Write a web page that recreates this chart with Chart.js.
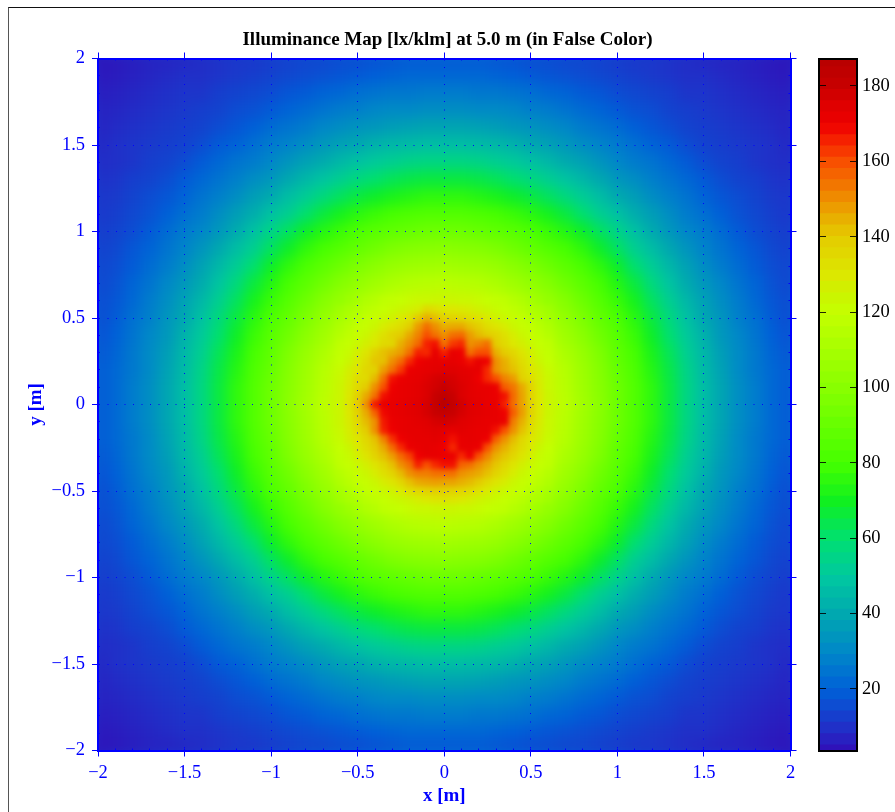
<!DOCTYPE html>
<html>
<head>
<meta charset="utf-8">
<script src="https://cdn.jsdelivr.net/npm/chart.js@4"></script>
<style>
html,body{margin:0;padding:0;background:#fff;width:895px;height:812px;overflow:hidden}
canvas{position:absolute;top:0}
#frame{position:absolute;left:8px;top:7px;right:0;bottom:0;border-left:1px solid #555;border-top:1px solid #111}
</style>
</head>
<body>
<div id="frame"></div>
<canvas id="map" width="895" height="812" style="left:0;width:895px;height:812px"></canvas>
<canvas id="bar" width="95" height="812" style="left:800px;width:95px;height:812px"></canvas>
<script>
const chartTitle = "Illuminance Map [lx/klm] at 5.0 m (in False Color)";
const xTitle = "x [m]";
const yTitle = "y [m]";
const coarseX = [-2,-1.9,-1.8,-1.7,-1.6,-1.5,-1.4,-1.3,-1.2,-1.1,-1,-0.9,-0.8,-0.7,-0.6,-0.5,-0.4,-0.3,-0.2,-0.1,0,0.1,0.2,0.3,0.4,0.5,0.6,0.7,0.8,0.9,1,1.1,1.2,1.3,1.4,1.5,1.6,1.7,1.8,1.9,2];
const coarseY = [2,1.9,1.8,1.7,1.6,1.5,1.4,1.3,1.2,1.1,1,0.9,0.8,0.7,0.6,0.5,0.4,0.3,0.2,0.1,0,-0.1,-0.2,-0.3,-0.4,-0.5,-0.6,-0.7,-0.8,-0.9,-1,-1.1,-1.2,-1.3,-1.4,-1.5,-1.6,-1.7,-1.8,-1.9,-2];
const coarseValues = [
[4,5,6,7,7,8,9,10,11,11,12,13,14,14,15,15,16,17,18,18,18,18,18,17,16,15,15,14,14,13,12,11,11,10,9,8,7,7,6,5,4],
[5,6,7,8,9,10,10,11,12,13,14,15,16,17,18,19,20,21,22,22,22,22,22,21,20,19,18,17,16,15,14,13,12,11,10,10,9,8,7,6,5],
[6,7,8,9,10,11,11,13,14,15,16,18,19,21,22,24,25,26,26,27,27,27,26,26,25,24,22,21,19,18,16,15,14,13,11,11,10,9,8,7,6],
[7,8,9,10,11,12,13,14,16,17,19,21,23,25,27,28,30,31,31,32,32,32,31,31,30,28,27,25,23,21,19,17,16,14,13,12,11,10,9,8,7],
[7,9,10,11,12,13,14,16,18,20,23,25,27,30,32,34,35,37,38,39,39,39,38,37,35,34,32,30,27,25,23,20,18,16,14,13,12,11,10,9,7],
[8,10,11,12,13,14,16,19,21,24,27,29,32,35,38,40,43,45,46,47,47,47,46,45,43,40,38,35,32,29,27,24,21,19,16,14,13,12,11,10,8],
[9,10,11,13,14,16,19,22,25,27,30,34,38,41,45,48,51,53,55,56,56,56,55,53,51,48,45,41,38,34,30,27,25,22,19,16,14,13,11,10,9],
[10,11,13,14,16,19,22,25,28,32,35,40,45,49,53,57,60,63,65,66,66,66,65,63,60,57,53,49,45,40,35,32,28,25,22,19,16,14,13,11,10],
[11,12,14,16,18,21,25,28,32,37,41,47,52,57,62,66,69,72,74,76,76,76,74,72,69,66,62,57,52,47,41,37,32,28,25,21,18,16,14,12,11],
[11,13,15,17,20,24,27,32,37,42,48,53,60,66,71,75,78,81,83,84,84,84,83,81,78,75,71,66,60,53,48,42,37,32,27,24,20,17,15,13,11],
[12,14,16,19,23,27,30,35,41,48,55,62,69,74,78,83,86,88,90,92,92,92,90,88,86,83,78,74,69,62,55,48,41,35,30,27,23,19,16,14,12],
[13,15,18,21,25,29,34,40,47,53,62,69,76,81,85,89,93,97,99,100,101,100,99,97,93,89,85,81,76,69,62,53,47,40,34,29,25,21,18,15,13],
[14,16,19,23,27,32,38,45,52,60,69,76,82,87,92,97,101,105,107,108,109,108,107,105,101,97,92,87,82,76,69,60,52,45,38,32,27,23,19,16,14],
[14,17,21,25,30,35,41,49,57,66,74,81,87,93,99,104,108,112,115,116,117,116,115,112,108,104,99,93,87,81,74,66,57,49,41,35,30,25,21,17,14],
[15,18,22,27,32,38,45,53,62,71,78,85,92,99,105,110,115,119,122,123,124,123,122,119,115,110,105,99,92,85,78,71,62,53,45,38,32,27,22,18,15],
[15,19,24,28,34,40,48,57,66,75,83,89,97,104,110,116,122,126,130,133,134,133,130,126,122,116,110,104,97,89,83,75,66,57,48,40,34,28,24,19,15],
[16,20,25,30,35,43,51,60,69,78,86,93,101,108,115,122,128,134,138,146,148,146,138,134,128,122,115,108,101,93,86,78,69,60,51,43,35,30,25,20,16],
[17,21,26,31,37,45,53,63,72,81,88,97,105,112,119,126,134,143,156,163,166,163,156,143,134,126,119,112,105,97,88,81,72,63,53,45,37,31,26,21,17],
[18,22,26,31,38,46,55,65,74,83,90,99,107,115,122,130,138,156,167,170,172,170,167,156,138,130,122,115,107,99,90,83,74,65,55,46,38,31,26,22,18],
[18,22,27,32,39,47,56,66,76,84,92,100,108,116,123,133,146,163,170,173,176,173,170,163,146,133,123,116,108,100,92,84,76,66,56,47,39,32,27,22,18],
[18,22,27,32,39,47,56,66,76,84,92,101,109,117,124,134,148,166,172,176,187,176,172,166,148,134,124,117,109,101,92,84,76,66,56,47,39,32,27,22,18],
[18,22,27,32,39,47,56,66,76,84,92,100,108,116,123,133,146,163,170,173,176,173,170,163,146,133,123,116,108,100,92,84,76,66,56,47,39,32,27,22,18],
[18,22,26,31,38,46,55,65,74,83,90,99,107,115,122,130,138,156,167,170,172,170,167,156,138,130,122,115,107,99,90,83,74,65,55,46,38,31,26,22,18],
[17,21,26,31,37,45,53,63,72,81,88,97,105,112,119,126,134,143,156,163,166,163,156,143,134,126,119,112,105,97,88,81,72,63,53,45,37,31,26,21,17],
[16,20,25,30,35,43,51,60,69,78,86,93,101,108,115,122,128,134,138,146,148,146,138,134,128,122,115,108,101,93,86,78,69,60,51,43,35,30,25,20,16],
[15,19,24,28,34,40,48,57,66,75,83,89,97,104,110,116,122,126,130,133,134,133,130,126,122,116,110,104,97,89,83,75,66,57,48,40,34,28,24,19,15],
[15,18,22,27,32,38,45,53,62,71,78,85,92,99,105,110,115,119,122,123,124,123,122,119,115,110,105,99,92,85,78,71,62,53,45,38,32,27,22,18,15],
[14,17,21,25,30,35,41,49,57,66,74,81,87,93,99,104,108,112,115,116,117,116,115,112,108,104,99,93,87,81,74,66,57,49,41,35,30,25,21,17,14],
[14,16,19,23,27,32,38,45,52,60,69,76,82,87,92,97,101,105,107,108,109,108,107,105,101,97,92,87,82,76,69,60,52,45,38,32,27,23,19,16,14],
[13,15,18,21,25,29,34,40,47,53,62,69,76,81,85,89,93,97,99,100,101,100,99,97,93,89,85,81,76,69,62,53,47,40,34,29,25,21,18,15,13],
[12,14,16,19,23,27,30,35,41,48,55,62,69,74,78,83,86,88,90,92,92,92,90,88,86,83,78,74,69,62,55,48,41,35,30,27,23,19,16,14,12],
[11,13,15,17,20,24,27,32,37,42,48,53,60,66,71,75,78,81,83,84,84,84,83,81,78,75,71,66,60,53,48,42,37,32,27,24,20,17,15,13,11],
[11,12,14,16,18,21,25,28,32,37,41,47,52,57,62,66,69,72,74,76,76,76,74,72,69,66,62,57,52,47,41,37,32,28,25,21,18,16,14,12,11],
[10,11,13,14,16,19,22,25,28,32,35,40,45,49,53,57,60,63,65,66,66,66,65,63,60,57,53,49,45,40,35,32,28,25,22,19,16,14,13,11,10],
[9,10,11,13,14,16,19,22,25,27,30,34,38,41,45,48,51,53,55,56,56,56,55,53,51,48,45,41,38,34,30,27,25,22,19,16,14,13,11,10,9],
[8,10,11,12,13,14,16,19,21,24,27,29,32,35,38,40,43,45,46,47,47,47,46,45,43,40,38,35,32,29,27,24,21,19,16,14,13,12,11,10,8],
[7,9,10,11,12,13,14,16,18,20,23,25,27,30,32,34,35,37,38,39,39,39,38,37,35,34,32,30,27,25,23,20,18,16,14,13,12,11,10,9,7],
[7,8,9,10,11,12,13,14,16,17,19,21,23,25,27,28,30,31,31,32,32,32,31,31,30,28,27,25,23,21,19,17,16,14,13,12,11,10,9,8,7],
[6,7,8,9,10,11,11,13,14,15,16,18,19,21,22,24,25,26,26,27,27,27,26,26,25,24,22,21,19,18,16,15,14,13,11,11,10,9,8,7,6],
[5,6,7,8,9,10,10,11,12,13,14,15,16,17,18,19,20,21,22,22,22,22,22,21,20,19,18,17,16,15,14,13,12,11,10,10,9,8,7,6,5],
[4,5,6,7,7,8,9,10,11,11,12,13,14,14,15,15,16,17,18,18,18,18,18,17,16,15,15,14,14,13,12,11,11,10,9,8,7,7,6,5,4]
];
const fineX = [-0.6,-0.55,-0.5,-0.45,-0.4,-0.35,-0.3,-0.25,-0.2,-0.15,-0.1,-0.05,0,0.05,0.1,0.15,0.2,0.25,0.3,0.35,0.4,0.45,0.5,0.55,0.6];
const fineY = [0.6,0.55,0.5,0.45,0.4,0.35,0.3,0.25,0.2,0.15,0.1,0.05,0,-0.05,-0.1,-0.15,-0.2,-0.25,-0.3,-0.35,-0.4,-0.45,-0.5,-0.55,-0.6];
const fineValues = [
[104,107,110,113,115,118,119,120,122,123,123,124,124,124,123,123,122,120,119,118,115,113,110,107,104],
[108,111,113,116,118,120,122,124,126,128,135,133,130,130,129,128,126,124,122,120,118,116,113,111,108],
[110,113,116,119,121,123,126,129,132,140,145,142,137,137,136,134,132,129,126,123,121,119,116,113,110],
[113,116,119,121,124,128,131,134,139,148,155,150,145,146,146,142,139,134,131,128,124,121,119,116,113],
[115,118,121,124,128,133,137,140,146,152,160,155,150,155,156,148,143,140,137,133,128,124,121,118,115],
[118,120,123,127,130,135,136,145,150,156,166,168,155,163,165,150,152,155,140,135,130,127,123,120,118],
[119,122,127,131,138,142,145,148,155,166,165,172,166,172,170,155,160,160,145,140,136,131,127,122,119],
[120,124,129,134,141,142,150,156,165,170,172,173,172,173,171,168,172,170,150,145,140,134,129,124,120],
[122,127,131,136,138,148,155,163,171,172,173,174,175,175,174,173,172,165,150,146,142,136,131,127,122],
[123,128,134,135,143,155,168,171,172,173,175,177,178,177,175,174,170,165,160,152,148,138,134,128,123],
[124,129,135,140,150,160,170,172,173,174,176,178,180,178,176,174,172,172,171,158,154,146,137,129,123],
[124,130,138,146,155,168,171,172,173,174,176,180,184,180,176,174,173,172,171,168,156,147,138,130,124],
[124,131,140,150,167,172,172,173,174,175,177,181,187,182,178,175,174,172,172,166,155,147,138,130,124],
[124,130,138,146,157,169,172,173,174,175,177,180,182,180,177,175,174,173,172,170,158,148,138,130,124],
[124,129,136,143,150,167,171,172,173,174,175,177,178,177,175,174,173,172,172,171,153,145,136,129,123],
[123,128,134,140,150,166,170,172,173,173,174,175,174,173,174,173,172,172,168,160,150,142,134,128,123],
[122,127,131,136,142,152,164,170,172,173,173,174,172,168,172,173,172,170,158,150,143,136,131,127,122],
[120,124,129,134,140,146,156,165,171,172,173,172,170,165,172,172,171,160,150,145,140,134,129,124,120],
[119,122,127,131,137,142,148,156,162,170,172,172,171,171,165,170,160,152,145,141,136,131,127,122,119],
[118,120,123,127,131,136,142,150,155,166,160,165,168,168,157,155,150,146,141,136,131,127,123,120,118],
[115,118,121,124,128,133,137,143,150,153,153,155,155,155,150,148,146,142,137,133,128,124,121,118,115],
[113,116,119,121,124,128,131,136,142,146,147,148,147,147,145,143,140,135,131,128,124,121,119,116,113],
[110,113,116,119,121,123,126,129,134,136,138,139,139,138,137,135,132,129,126,123,121,119,116,113,110],
[108,111,113,116,118,120,122,124,126,128,130,131,132,131,130,128,126,124,122,120,118,116,113,111,108],
[104,107,110,113,115,118,119,120,122,123,123,124,124,124,123,123,122,120,119,118,115,113,110,107,104]
];
const colorbarLevels = [4,7,10,13,16,19,22,25,28,31,34,37,40,43,46,49,52,55,58,61,64,67,70,73,76,79,82,85,88,91,94,97,100,103,106,109,112,115,118,121,124,127,130,133,136,139,142,145,148,151,154,157,160,163,166,169,172,175,178,181,184,187];
const colorStops = [[3.6,[48,16,184]],[10,[32,48,200]],[20,[0,96,216]],[30,[0,136,200]],[40,[0,168,176]],[50,[0,200,160]],[60,[0,224,112]],[70,[16,240,32]],[80,[68,255,0]],[100,[136,255,0]],[120,[196,255,0]],[125,[204,244,0]],[130,[220,232,0]],[140,[228,204,0]],[145,[232,176,0]],[150,[238,144,0]],[160,[248,80,0]],[166,[245,32,0]],[170,[238,0,0]],[175,[224,0,0]],[180,[200,0,0]],[187.3,[184,0,0]]];

function cmap(v){
  let a = colorStops[0], b = colorStops[colorStops.length-1];
  for(let i=0;i<colorStops.length-1;i++){
    if(v>=colorStops[i][0] && v<=colorStops[i+1][0]){a=colorStops[i];b=colorStops[i+1];break;}
  }
  const t = b[0]===a[0]?0:Math.min(1,Math.max(0,(v-a[0])/(b[0]-a[0])));
  const c = a[1].map((p,i)=>Math.round(p+(b[1][i]-p)*t));
  return `rgb(${c[0]},${c[1]},${c[2]})`;
}
function toPoints(xs,ys,table){
  const out=[];
  ys.forEach((y,r)=>xs.forEach((x,c)=>out.push({x:x,y:y,v:table[r][c]})));
  return out;
}
const coarsePoints = toPoints(coarseX,coarseY,coarseValues);
const finePoints = toPoints(fineX,fineY,fineValues);
const BLUE = '#0000ff';
const SERIF = '"Liberation Serif","Times New Roman",serif';
const fmt = v => { const a=Math.abs(v); return (v<0?'\u2212':'')+String(a); };
const fixH = h => s => { s.height = h; };
const fixW = w => s => { s.width = w; };

function side(position, size, extra){
  const horizontal = position==='top'||position==='bottom';
  return Object.assign({
    type:'linear', position, min:-2, max:2,
    afterFit: horizontal?fixH(size):fixW(size),
    border:{color:BLUE,width:2,z:3},
    grid:{drawOnChartArea:false,drawTicks:true,color:BLUE,tickColor:BLUE,tickLength:6,tickWidth:1,z:2},
    ticks:{display:false,stepSize:0.5,autoSkip:false}
  },extra||{});
}
function minor(position){
  return side(position,0,{
    weight:-5,
    grid:{drawOnChartArea:false,drawTicks:true,color:BLUE,tickColor:BLUE,tickLength:-2,tickWidth:1,z:2},
    ticks:{display:false,stepSize:0.1,autoSkip:false,maxTicksLimit:100},
    border:{display:false}
  });
}
const labelFont = {family:SERIF,size:18.5};
const titleFont = {family:SERIF,size:19,weight:'bold',lineHeight:1.2};
function soften(chart,sigma){
  const a = chart.chartArea, M = 24, src = chart.canvas, w = a.right-a.left, h = a.bottom-a.top;
  const tmp = document.createElement('canvas');
  tmp.width = Math.ceil(w)+2*M; tmp.height = Math.ceil(h)+2*M;
  const t = tmp.getContext('2d');
  t.drawImage(src,a.left,a.top,w,h,0,0,tmp.width,tmp.height);
  t.drawImage(src,a.left,a.top,w,h,M,M,w,h);
  const ctx = chart.ctx;
  ctx.save();
  ctx.beginPath(); ctx.rect(a.left,a.top,w,h); ctx.clip();
  ctx.filter = `blur(${sigma}px)`;
  ctx.drawImage(tmp,a.left-M,a.top-M);
  ctx.restore();
}
const softPlugin = {
  id:'softCells',
  afterDatasetDraw(chart,args){ soften(chart, args.index===0 ? 2.5 : 6); }
};
new Chart(document.getElementById('map'),{
  type:'scatter',
  plugins:[softPlugin],
  data:{datasets:[
    {label:'fine',data:finePoints,pointStyle:'rect',pointRadius:6.5,pointHoverRadius:6.5,pointBorderWidth:0,
     pointBackgroundColor:finePoints.map(p=>cmap(p.v)),clip:0},
    {label:'coarse',data:coarsePoints,pointStyle:'rect',pointRadius:13,pointHoverRadius:13,pointBorderWidth:0,
     pointBackgroundColor:coarsePoints.map(p=>cmap(p.v)),clip:0}
  ]},
  options:{
    responsive:false,animation:false,devicePixelRatio:1,
    layout:{padding:0},
    plugins:{legend:{display:false},tooltip:{enabled:false},
      title:{display:true,text:chartTitle,color:'#000',font:titleFont,padding:{top:28.4,bottom:1.3}}},
    scales:{
      x:side('bottom',61.5,{
        border:{color:BLUE,width:2,dash:[1,7.5],z:3},
        grid:{z:1,drawOnChartArea:true,drawTicks:true,color:BLUE,tickColor:BLUE,tickLength:6,lineWidth:1,tickWidth:1,tickBorderDash:[]},
        ticks:{display:true,stepSize:0.5,autoSkip:false,color:BLUE,font:labelFont,padding:6,maxRotation:0,callback:fmt},
        title:{display:true,text:xTitle,color:BLUE,font:titleFont,padding:{top:0,bottom:5}}
      }),
      y:side('left',98,{
        border:{color:BLUE,width:2,dash:[1,7.5],z:3},
        grid:{z:1,drawOnChartArea:true,drawTicks:true,color:BLUE,tickColor:BLUE,tickLength:6,lineWidth:1,tickWidth:1,tickBorderDash:[]},
        ticks:{display:true,stepSize:0.5,autoSkip:false,color:BLUE,font:labelFont,padding:7,callback:fmt},
        title:{display:true,text:yTitle,color:BLUE,font:titleFont,padding:{top:25,bottom:0}}
      }),
      xT:side('top',6),
      yR:side('right',104.5),
      xm:minor('bottom'),xtm:minor('top'),ym:minor('left'),yrm:minor('right')
    }
  }
});

const barScale = (position,size,showLabels) => ({
  type:'linear',position,min:3.6,max:187.3,
  afterFit:fixW(size),
  border:{color:'#000',width:2},
  grid:{drawOnChartArea:false,drawTicks:true,color:'#000',tickColor:'rgba(0,0,0,0.85)',tickLength:-7,tickWidth:1,z:2},
  ticks:{display:showLabels,stepSize:20,autoSkip:false,color:'#000',font:labelFont,padding:12,
    callback:v=>v},
  afterBuildTicks(s){ s.ticks = s.ticks.filter(t=>t.value>=20 && t.value%20===0); }
});
const barEdge = position => ({type:'category',position,afterFit:fixH(0),
  border:{color:'#000',width:2,z:3},
  grid:{display:true,drawOnChartArea:false,drawTicks:false,z:2},ticks:{display:false}});
new Chart(document.getElementById('bar'),{
  type:'bar',
  data:{labels:['level'],datasets:colorbarLevels.map(v=>({
    label:String(v),data:[[v-1.7,v+1.7]],backgroundColor:cmap(v),borderWidth:0,
    barPercentage:1,categoryPercentage:1,grouped:false,yAxisID:'y',order:-v
  }))},
  options:{
    responsive:false,animation:false,devicePixelRatio:1,
    layout:{padding:{top:58.5,bottom:61.5,left:19,right:0}},
    plugins:{legend:{display:false},tooltip:{enabled:false}},
    scales:{
      x:barEdge('bottom'),
      xT:barEdge('top'),
      y:Object.assign(barScale('right',38,true),{border:{color:'#000',width:2,z:3}}),
      yL:Object.assign(barScale('left',0,false),{border:{color:'#000',width:2,z:3}})
    }
  }
});
</script>
</body>
</html>
